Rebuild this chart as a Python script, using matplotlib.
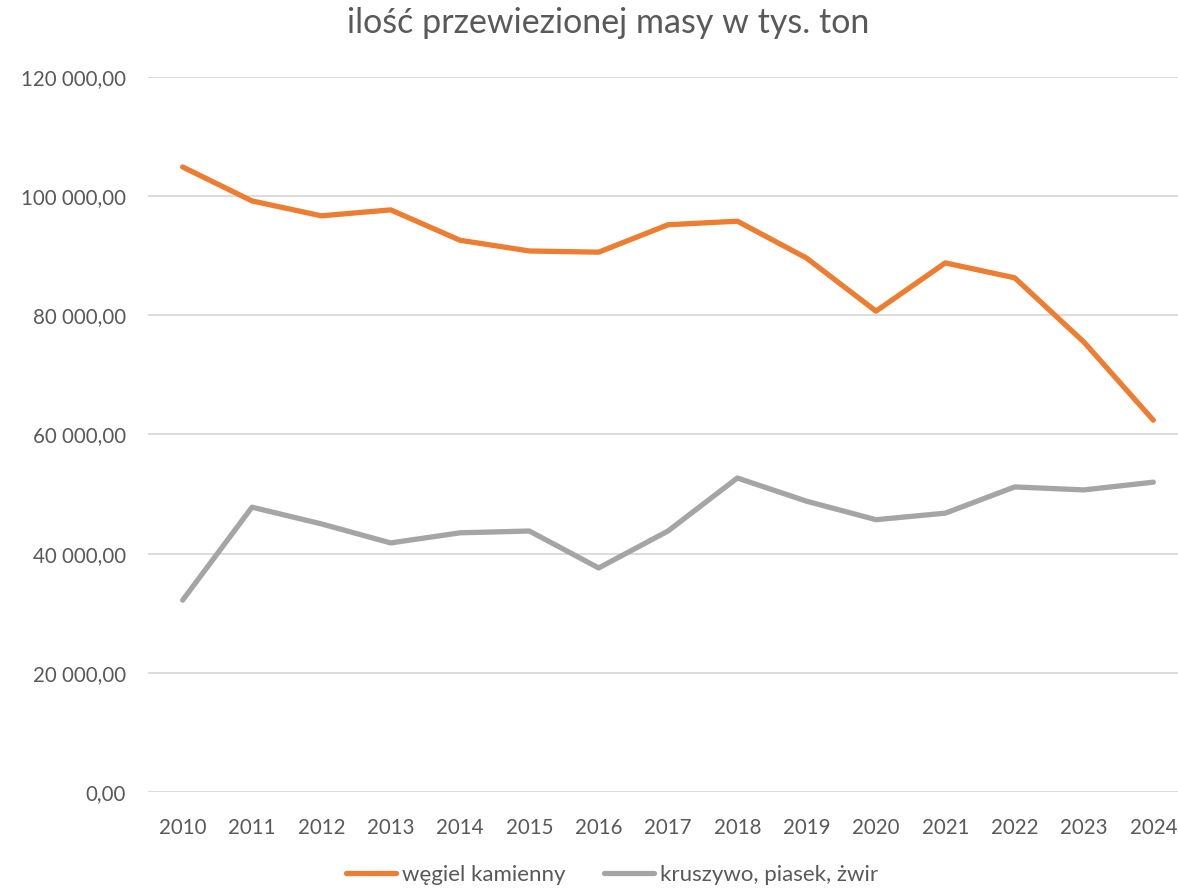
import matplotlib.pyplot as plt
from matplotlib.ticker import FuncFormatter

# --- Data (thousand tonnes) ---
years = [2010, 2011, 2012, 2013, 2014, 2015, 2016, 2017, 2018, 2019, 2020, 2021, 2022, 2023, 2024]
coal = [104900, 99200, 96700, 97700, 92600, 90800, 90600, 95200, 95800, 89600, 80700, 88800, 86300, 75500, 62400]
aggregate = [32200, 47800, 45000, 41800, 43500, 43800, 37600, 43800, 52700, 48800, 45700, 46800, 51200, 50700, 52000]
labels = ['węgiel kamienny', 'kruszywo, piasek, żwir']
colors = ['#ED7D31', '#A5A5A5']

plt.rcParams['font.family'] = ['Lato', 'DejaVu Sans']

W, H = 1178, 888
fig = plt.figure(figsize=(W / 100, H / 100), dpi=100)
# plot area in pixels: left 148, right ~1188, top 77, bottom 792
ax = fig.add_axes([148 / W, 1 - 792 / H, (1188 - 148) / W, (792 - 77) / H])

x = list(range(len(years)))
for series, lab, col in zip([coal, aggregate], labels, colors):
    ax.plot(x, series, color=col, lw=3.8, solid_capstyle='round', solid_joinstyle='round', label=lab)

ax.set_xlim(-0.5, len(years) - 0.5)
ax.set_ylim(0, 120000)
ax.set_yticks(range(0, 120001, 20000))
ax.yaxis.set_major_formatter(FuncFormatter(lambda v, p: f"{v:,.2f}".replace(',', ' ').replace('.', ',')))
ax.set_xticks(x)
ax.set_xticklabels([str(y) for y in years])
ax.grid(axis='y', color='#D9D9D9', lw=1.3)
ax.set_axisbelow(True)
for s in ax.spines.values():
    s.set_visible(False)
ax.tick_params(length=0, labelsize=14.8, labelcolor='#595959')
ax.tick_params(axis='y', pad=16)
ax.tick_params(axis='x', pad=19)

fig.text(608 / W, 1 - 23 / H, 'ilość przewiezionej masy w tys. ton', ha='center', va='center',
         fontsize=24.5, color='#595959')

fig.legend(loc='center', bbox_to_anchor=(612 / W, 1 - 875 / H), ncol=2, frameon=False,
           fontsize=16, labelcolor='#595959', handlelength=2.25, handletextpad=0.3, columnspacing=1.7)

fig.savefig('out.png', dpi=100)
